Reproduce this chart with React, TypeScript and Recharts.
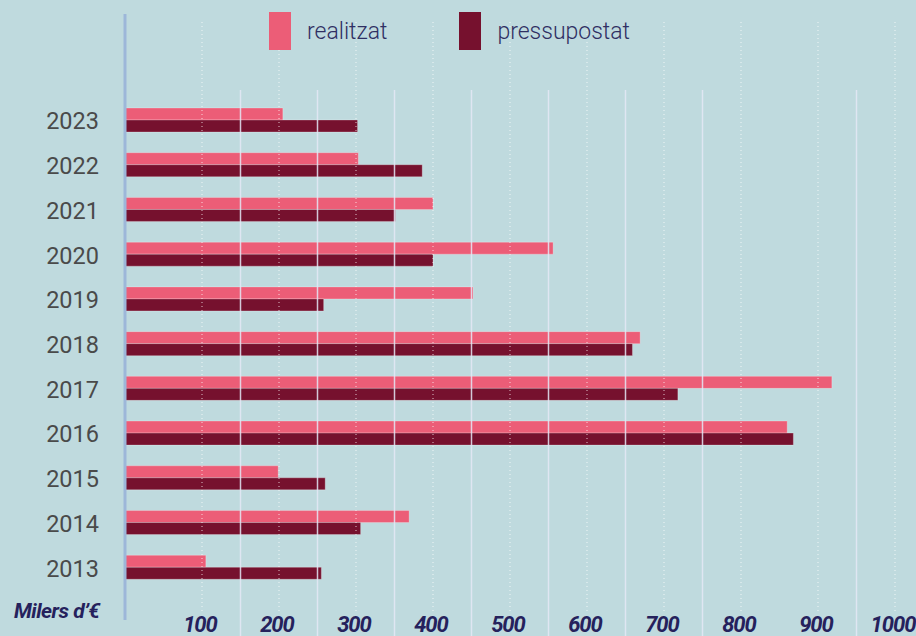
import React from 'react';
import { BarChart, Bar, XAxis, YAxis, ReferenceLine, Legend } from 'recharts';

const years = ['2023', '2022', '2021', '2020', '2019', '2018', '2017', '2016', '2015', '2014', '2013'];
const realitzat = [205, 303, 400, 556, 452, 669, 918, 860, 199, 369, 105];
const pressupostat = [302, 386, 351, 400, 258, 659, 718, 868, 260, 306, 255];
const seriesOrder = ['realitzat', 'pressupostat'];
const xTicks = [100, 200, 300, 400, 500, 600, 700, 800, 900, 1000];
const dottedLines = [100, 200, 300, 400, 500, 600, 700, 800, 900, 1000];
const solidLines = [150, 250, 350, 450, 550, 650, 750, 950];

const data = years.map((year, i) => ({
  year,
  realitzat: realitzat[i],
  pressupostat: pressupostat[i],
}));

const BG = '#BFDADE';
const PINK = '#EC5D77';
const DARK = '#76112E';
const NAVY = '#25215C';

const YearTick = ({ y, payload }: any) => (
  <text x={99} y={y + 9} textAnchor="end" fill="#4A4A4A" fontSize={23.5} fontFamily="Roboto" fontWeight={400}>
    {payload.value}
  </text>
);

const ValueTick = ({ x, payload }: any) => (
  <text
    x={x - 2}
    y={632}
    textAnchor="middle"
    fill={NAVY}
    fontSize={22}
    fontFamily="Roboto"
    fontWeight={700}
    fontStyle="italic"
    letterSpacing={-1}
  >
    {payload.value}
  </text>
);

const vLine = (top: number, bottom: number, stroke: string, width: number, dash?: string) => (props: any) => (
  <line
    x1={props.x1}
    x2={props.x2}
    y1={top}
    y2={bottom}
    stroke={stroke}
    strokeWidth={width}
    strokeDasharray={dash}
  />
);

const LegendContent = ({ payload }: any) => {
  const items = [...(payload || [])].sort(
    (a: any, b: any) => seriesOrder.indexOf(a.value) - seriesOrder.indexOf(b.value)
  );
  return (
    <div style={{ display: 'flex', alignItems: 'center', fontFamily: 'Roboto' }}>
      {items.map((p: any, i: number) => (
        <div key={i} style={{ display: 'flex', alignItems: 'center', marginRight: i === 0 ? 72 : 0 }}>
          <div style={{ width: 22, height: 38, background: p.color, marginRight: 16 }} />
          <span style={{ fontSize: 23, fontWeight: 300, color: '#2F2F63' }}>{p.value}</span>
        </div>
      ))}
    </div>
  );
};

export default function App() {
  return (
    <div style={{ position: 'absolute', left: 0, top: 0, width: 916, height: 636, background: BG, overflow: 'hidden' }}>
      <BarChart
        width={916}
        height={636}
        data={data}
        layout="vertical"
        margin={{ top: 98, right: 21, bottom: 0, left: 0 }}
        barGap={0}
        barCategoryGap={0}
      >
        <ReferenceLine x={0} ifOverflow="visible" shape={vLine(14, 620, '#9DB7D9', 3)} />
        <XAxis
          type="number"
          domain={[0, 1000]}
          ticks={xTicks}
          tick={<ValueTick />}
          axisLine={false}
          tickLine={false}
          height={46}
        />
        <YAxis
          type="category"
          dataKey="year"
          width={125}
          tick={<YearTick />}
          axisLine={false}
          tickLine={false}
        />
        <Legend
          layout="horizontal"
          verticalAlign="middle"
          align="center"
          content={<LegendContent />}
          wrapperStyle={{ top: 12, left: 269, width: 'auto' }}
        />
        <Bar dataKey="realitzat" name="realitzat" fill={PINK} barSize={12} stroke="rgba(255,255,255,0.25)" strokeWidth={1} isAnimationActive={false} />
        <Bar dataKey="pressupostat" name="pressupostat" fill={DARK} barSize={12} stroke="rgba(255,255,255,0.25)" strokeWidth={1} isAnimationActive={false} />
        {solidLines.map((v) => (
          <ReferenceLine key={'s' + v} x={v} ifOverflow="visible" shape={vLine(90, 636, 'rgba(228,232,246,0.85)', 1.5)} />
        ))}
        {dottedLines.map((v) => (
          <ReferenceLine key={'d' + v} x={v} ifOverflow="visible" shape={vLine(22, 613, 'rgba(255,255,255,0.75)', 1, '1 3')} />
        ))}
      </BarChart>
      <div
        style={{
          position: 'absolute',
          left: 14,
          top: 599,
          fontFamily: 'Roboto',
          fontSize: 21,
          fontWeight: 700,
          fontStyle: 'italic',
          color: NAVY,
          letterSpacing: -0.5,
        }}
      >
        Milers d’€
      </div>
    </div>
  );
}
